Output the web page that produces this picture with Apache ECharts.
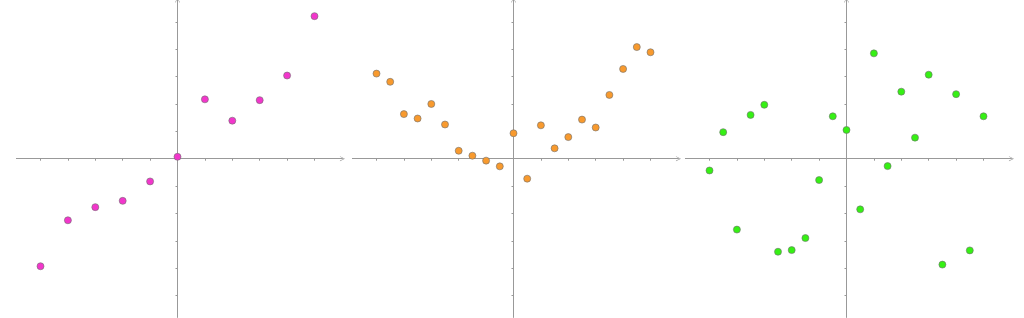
<!DOCTYPE html>
<html>
<head>
<meta charset="utf-8">
<script src="https://cdn.jsdelivr.net/npm/echarts@6/dist/echarts.min.js"></script>
<style>html,body{margin:0;padding:0;background:#fff;}#c{width:1024px;height:318px;}</style>
</head>
<body>
<div id="c"></div>
<script>
var tickValues = [-5, -4, -3, -2, -1, 1, 2, 3, 4, 5];

var xLinear = [-5, -4, -3, -2, -1, 0, 1, 2, 3, 4, 5];
var yLinear = [-3.93, -2.25, -1.77, -1.54, -0.83, 0.07, 2.17, 1.39, 2.14, 3.04, 5.21];

var xHalf = [-5, -4.5, -4, -3.5, -3, -2.5, -2, -1.5, -1, -0.5, 0, 0.5, 1, 1.5, 2, 2.5, 3, 3.5, 4, 4.5, 5];
var yQuadratic = [3.11, 2.81, 1.63, 1.47, 2.0, 1.25, 0.29, 0.11, -0.07, -0.28, 0.93, -0.73, 1.22, 0.38, 0.79, 1.43, 1.14, 2.33, 3.28, 4.08, 3.89];
var yRandom = [-0.43, 0.97, -2.59, 1.60, 1.97, -3.40, -3.34, -2.90, -0.78, 1.55, 1.05, -1.85, 3.85, -0.27, 2.45, 0.77, 3.07, -3.87, 2.36, -3.35, 1.55];

var colors = ['#f236cb', '#f89a2e', '#36f014'];

function pairs(xs, ys) { return xs.map(function (x, i) { return [x, ys[i]]; }); }

var axisCol = '#999999';
var arrowPath = 'path://M0,10 L5,0 L10,10 L8.8,10 L5,2.4 L1.2,10 Z';

function mkAxis(gi, min, max) {
  return {
    type: 'value', gridIndex: gi, min: min, max: max,
    axisLine: { show: true, onZero: true, lineStyle: { color: axisCol, width: 1 },
      symbol: ['none', arrowPath], symbolSize: [8, 5], symbolOffset: [0, 0] },
    axisTick: { show: true, length: 2, inside: false, customValues: tickValues, lineStyle: { color: axisCol } },
    axisLabel: { show: false },
    splitLine: { show: false }
  };
}

var origins = [177.5, 513.5, 846.5];
var originY = 158.5;
var unit = 27.4;
var xmin = -5.88, xmax = 6.02, ymin = -5.8, ymax = 5.8;

var grids = origins.map(function (o) {
  return { left: o + xmin * unit, width: (xmax - xmin) * unit, top: originY - ymax * unit, height: (ymax - ymin) * unit, containLabel: false };
});

var datasets = [pairs(xLinear, yLinear), pairs(xHalf, yQuadratic), pairs(xHalf, yRandom)];

var option = {
  animation: false,
  backgroundColor: '#fff',
  grid: grids,
  xAxis: [0, 1, 2].map(function (i) { return mkAxis(i, xmin, xmax); }),
  yAxis: [0, 1, 2].map(function (i) { return mkAxis(i, ymin, ymax); }),
  series: datasets.map(function (d, i) {
    return {
      type: 'scatter', xAxisIndex: i, yAxisIndex: i, data: d,
      symbol: 'circle', symbolSize: 7,
      itemStyle: { color: colors[i], borderColor: '#6e6e6e', borderWidth: 0.6, opacity: 1 }
    };
  })
};

var chart = echarts.init(document.getElementById('c'), null, { renderer: 'canvas' });
chart.setOption(option);
</script>
</body>
</html>
